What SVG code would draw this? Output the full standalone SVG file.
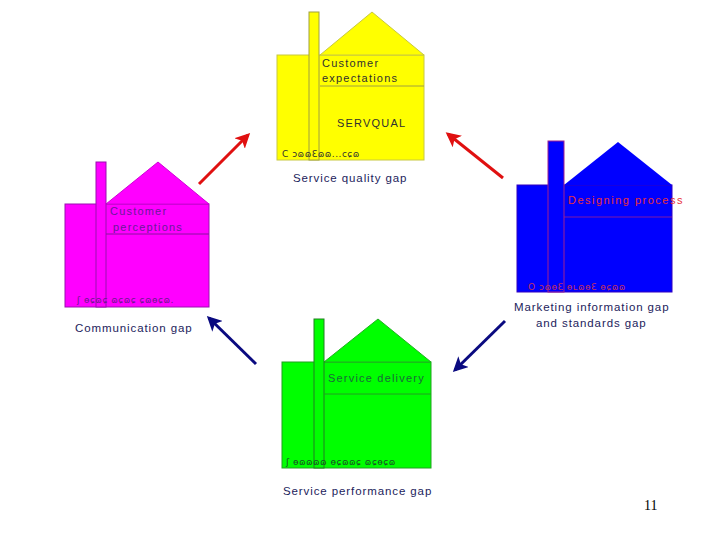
<svg xmlns="http://www.w3.org/2000/svg" width="720" height="540" viewBox="0 0 720 540">
<style>
.lbl{font-family:"Liberation Sans",Arial,sans-serif;font-size:11.5px;letter-spacing:0.9px;fill:#1c1c5c}
.hd{font-family:"Liberation Sans",Arial,sans-serif;font-size:11px;letter-spacing:1.2px}
.gb{font-family:"DejaVu Sans",sans-serif;font-size:9px;letter-spacing:0.5px}
.arr{stroke-width:3;fill:none}
</style>
<defs>
<marker id="ahR" viewBox="0 0 10 10" refX="8" refY="5" markerWidth="5" markerHeight="5" orient="auto" markerUnits="strokeWidth">
<path d="M0,0 L10,5 L0,10 L2.5,5 Z" fill="#e01010"/>
</marker>
<marker id="ahB" viewBox="0 0 10 10" refX="8" refY="5" markerWidth="5" markerHeight="5" orient="auto" markerUnits="strokeWidth">
<path d="M0,0 L10,5 L0,10 L2.5,5 Z" fill="#0a0a80"/>
</marker>
</defs>
<rect width="720" height="540" fill="#ffffff"/>

<g id="house-expectations">
<rect x="277" y="55" width="147" height="105" fill="#ffff00" stroke="#c8c840" stroke-width="1"/>
<polygon points="320,55 372,12 424,55" fill="#ffff00" stroke="#c8c840" stroke-width="1"/>
<rect x="309" y="12" width="10" height="148" fill="#ffff00" stroke="#a0a040" stroke-width="1"/>
<line x1="320" y1="86" x2="424" y2="86" stroke="#a0a040" stroke-width="1"/>
<text class="hd" x="322" y="67" fill="#303030">Customer</text>
<text class="hd" x="322" y="82" fill="#303030">expectations</text>
<text class="hd" x="337" y="127" fill="#303030">SERVQUAL</text>
<text class="gb" x="282" y="157" fill="#303030">C ɔɷɷƐɷɷ...cɕɷ</text>
<text class="lbl" x="293" y="182">Service quality gap</text>
</g>

<g id="house-perceptions">
<rect x="65" y="204" width="144" height="103" fill="#ff00ff" stroke="#9a10b0" stroke-width="1"/>
<polygon points="106,204 158,162 209,204" fill="#ff00ff" stroke="#d000d8" stroke-width="1"/>
<rect x="96" y="162" width="10" height="145" fill="#ff00ff" stroke="#9a10b0" stroke-width="1"/>
<line x1="106" y1="234" x2="209" y2="234" stroke="#8a10a0" stroke-width="1"/>
<text class="hd" x="110" y="215" fill="#6a1a9a">Customer</text>
<text class="hd" x="113" y="231" fill="#6a1a9a">perceptions</text>
<text class="gb" x="77" y="303" fill="#6a1a8a">ʃ ɵɕɷɕ ɷɕɷɕ ɕɷɵɕɷ.</text>
<text class="lbl" x="75" y="332">Communication gap</text>
</g>

<g id="house-design">
<rect x="517" y="185" width="155" height="107" fill="#0000ff" stroke="#3000c0" stroke-width="1"/>
<polygon points="564,185 618,142 672,185" fill="#0000ff"/>
<rect x="548" y="141" width="16" height="151" fill="#0000ff" stroke="#a02090" stroke-width="1"/>
<line x1="564" y1="217" x2="672" y2="217" stroke="#a02090" stroke-width="0.8"/>
<text class="hd" x="568" y="204" fill="#e8303a" style="letter-spacing:1.5px">Designing process</text>
<text class="gb" x="528" y="290" fill="#c03060">O ɔɷɵƐ ɵʟɷɵƐ ɵɕɷɷ</text>
<text class="lbl" x="514" y="311">Marketing information gap</text>
<text class="lbl" x="536" y="327">and standards gap</text>
</g>

<g id="house-delivery">
<rect x="282" y="362" width="149" height="106" fill="#00ff00" stroke="#20a020" stroke-width="1"/>
<polygon points="324,362 378,319 431,362" fill="#00ff00" stroke="#20b020" stroke-width="1"/>
<rect x="314" y="319" width="10" height="149" fill="#00ff00" stroke="#208020" stroke-width="1"/>
<line x1="324" y1="394" x2="431" y2="394" stroke="#20a020" stroke-width="1"/>
<text class="hd" x="328" y="382" fill="#1a6a3a">Service delivery</text>
<text class="gb" x="286" y="465" fill="#1a4a2a">ʃ ɵɷɷɷɷ ɵɕɷɷɕ ɷɕɵɕɷ</text>
<text class="lbl" x="283" y="495">Service performance gap</text>
</g>

<g id="connectors">
<line class="arr" x1="199" y1="184" x2="248" y2="135" stroke="#e01010" marker-end="url(#ahR)"/>
<line class="arr" x1="503" y1="178" x2="448" y2="134" stroke="#e01010" marker-end="url(#ahR)"/>
<line class="arr" x1="256" y1="364" x2="209" y2="318" stroke="#0a0a80" marker-end="url(#ahB)"/>
<line class="arr" x1="505" y1="321" x2="455" y2="370" stroke="#0a0a80" marker-end="url(#ahB)"/>
</g>

<text x="644" y="510" font-family="Liberation Serif,serif" font-size="14" fill="#000">11</text>
</svg>
